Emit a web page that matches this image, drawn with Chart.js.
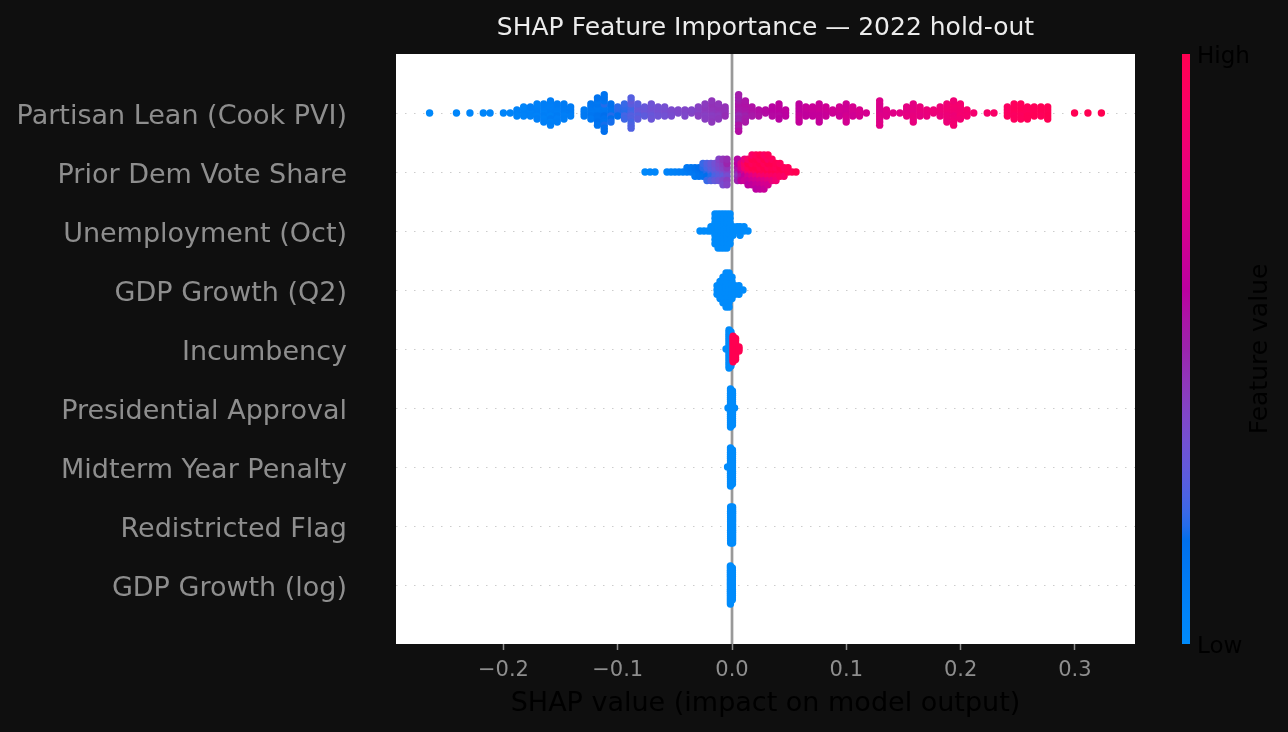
<!DOCTYPE html>
<html>
<head>
<meta charset="utf-8">
<title>SHAP Feature Importance — 2022 hold-out</title>
<script src="https://cdn.jsdelivr.net/npm/chart.js@4.4.1/dist/chart.umd.min.js"></script>
<style>
  html, body { margin: 0; padding: 0; background: #0f0f0f; }
  #wrap { width: 1288px; height: 732px; }
</style>
</head>
<body>
<div id="wrap"><canvas id="shap" width="1288" height="732"></canvas></div>
<script>
// ---------------------------------------------------------------------------
// Data: one SHAP value per district and its (scaled 0..1) feature value
// ---------------------------------------------------------------------------
const chartTitle = 'SHAP Feature Importance \u2014 2022 hold-out';
const xTitle = 'SHAP value (impact on model output)';
const colorLabel = 'Feature value';
const colorTicks = ['Low', 'High'];
const xTicks = [-0.2, -0.1, 0.0, 0.1, 0.2, 0.3];

const featureNames = [
    'Partisan Lean (Cook PVI)',
    'Prior Dem Vote Share',
    'Unemployment (Oct)',
    'GDP Growth (Q2)',
    'Incumbency',
    'Presidential Approval',
    'Midterm Year Penalty',
    'Redistricted Flag',
    'GDP Growth (log)'
];

const shapPartisan = [
    -0.2646, -0.2411, -0.2293, -0.2176, -0.2117, -0.2000, -0.1941,
    -0.1882, -0.1882, -0.1882,
    -0.1823, -0.1823, -0.1823, -0.1823,
    -0.1764, -0.1764, -0.1764, -0.1764,
    -0.1706, -0.1706, -0.1706, -0.1706, -0.1706, -0.1706,
    -0.1647, -0.1647, -0.1647, -0.1647, -0.1647, -0.1647, -0.1647,
    -0.1588, -0.1588, -0.1588, -0.1588, -0.1588, -0.1588, -0.1588, -0.1588, -0.1588,
    -0.1529, -0.1529, -0.1529, -0.1529, -0.1529, -0.1529, -0.1529,
    -0.1470, -0.1470, -0.1470, -0.1470, -0.1470, -0.1470,
    -0.1412, -0.1412, -0.1412, -0.1412,
    -0.1294, -0.1294, -0.1294,
    -0.1235, -0.1235, -0.1235, -0.1235, -0.1235, -0.1235,
    -0.1177, -0.1177, -0.1177, -0.1177, -0.1177, -0.1177, -0.1177, -0.1177, -0.1177, -0.1177,
    -0.1118, -0.1118, -0.1118, -0.1118, -0.1118, -0.1118, -0.1118, -0.1118, -0.1118, -0.1118, -0.1118, -0.1118, -0.1118,
    -0.1059, -0.1059, -0.1059, -0.1059, -0.1059, -0.1059, -0.1059,
    -0.1000, -0.1000, -0.1000, -0.1000,
    -0.0941, -0.0941, -0.0941, -0.0941, -0.0941, -0.0941,
    -0.0883, -0.0883, -0.0883, -0.0883, -0.0883, -0.0883, -0.0883, -0.0883, -0.0883, -0.0883, -0.0883,
    -0.0824, -0.0824, -0.0824, -0.0824, -0.0824, -0.0824,
    -0.0765, -0.0765, -0.0765, -0.0765,
    -0.0706, -0.0706, -0.0706, -0.0706, -0.0706, -0.0706,
    -0.0647, -0.0647, -0.0647, -0.0647,
    -0.0589, -0.0589, -0.0589, -0.0589,
    -0.0530, -0.0530, -0.0530,
    -0.0471, -0.0471,
    -0.0412, -0.0412, -0.0412,
    -0.0354, -0.0354,
    -0.0295, -0.0295, -0.0295, -0.0295,
    -0.0236, -0.0236, -0.0236, -0.0236, -0.0236, -0.0236,
    -0.0177, -0.0177, -0.0177, -0.0177, -0.0177, -0.0177, -0.0177, -0.0177,
    -0.0118, -0.0118, -0.0118, -0.0118, -0.0118, -0.0118,
    -0.0060, -0.0060, -0.0060, -0.0060,
    0.0058, 0.0058, 0.0058, 0.0058, 0.0058, 0.0058, 0.0058, 0.0058, 0.0058, 0.0058, 0.0058, 0.0058, 0.0058,
    0.0117, 0.0117, 0.0117, 0.0117, 0.0117, 0.0117, 0.0117, 0.0117,
    0.0175, 0.0175, 0.0175, 0.0175,
    0.0234, 0.0234, 0.0234,
    0.0293, 0.0293,
    0.0352, 0.0352, 0.0352, 0.0352,
    0.0411, 0.0411, 0.0411, 0.0411, 0.0411, 0.0411,
    0.0469, 0.0469, 0.0469,
    0.0587, 0.0587, 0.0587, 0.0587, 0.0587, 0.0587, 0.0587,
    0.0646, 0.0646, 0.0646, 0.0646,
    0.0705, 0.0705, 0.0705, 0.0705,
    0.0763, 0.0763, 0.0763, 0.0763, 0.0763, 0.0763, 0.0763,
    0.0822, 0.0822, 0.0822, 0.0822,
    0.0881, 0.0881,
    0.0940, 0.0940, 0.0940, 0.0940,
    0.0999, 0.0999, 0.0999, 0.0999, 0.0999, 0.0999, 0.0999,
    0.1057, 0.1057, 0.1057, 0.1057,
    0.1116, 0.1116, 0.1116,
    0.1175,
    0.1292, 0.1292, 0.1292, 0.1292, 0.1292, 0.1292, 0.1292, 0.1292, 0.1292,
    0.1351, 0.1351, 0.1351,
    0.1410, 0.1469,
    0.1528, 0.1528, 0.1528, 0.1528,
    0.1586, 0.1586, 0.1586, 0.1586, 0.1586, 0.1586, 0.1586,
    0.1645, 0.1645, 0.1645, 0.1645,
    0.1704, 0.1704, 0.1704,
    0.1763, 0.1763,
    0.1821, 0.1821, 0.1821, 0.1821,
    0.1880, 0.1880, 0.1880, 0.1880, 0.1880, 0.1880, 0.1880,
    0.1939, 0.1939, 0.1939, 0.1939, 0.1939, 0.1939, 0.1939, 0.1939, 0.1939,
    0.1998, 0.1998, 0.1998, 0.1998, 0.1998, 0.1998,
    0.2056, 0.2056, 0.2056,
    0.2115, 0.2233, 0.2292,
    0.2409, 0.2409, 0.2409, 0.2409,
    0.2468, 0.2468, 0.2468, 0.2468, 0.2468, 0.2468,
    0.2527, 0.2527, 0.2527, 0.2527, 0.2527, 0.2527,
    0.2585, 0.2585, 0.2585, 0.2585, 0.2585,
    0.2644, 0.2644, 0.2644, 0.2644,
    0.2703, 0.2703, 0.2703, 0.2703,
    0.2762, 0.2762, 0.2762, 0.2762, 0.2762,
    0.2997, 0.3114, 0.3232
];
const featPartisan = [
    0.02, 0.03, 0.03, 0.04, 0.04, 0.05, 0.05,
    0.06, 0.06, 0.05,
    0.06, 0.07, 0.06, 0.05,
    0.07, 0.06, 0.07, 0.08,
    0.07, 0.08, 0.06, 0.07, 0.08, 0.06,
    0.08, 0.07, 0.09, 0.08, 0.07, 0.09, 0.08,
    0.08, 0.09, 0.07, 0.08, 0.10, 0.08, 0.07, 0.09, 0.08,
    0.09, 0.08, 0.10, 0.09, 0.08, 0.10, 0.09,
    0.09, 0.10, 0.08, 0.10, 0.09, 0.11,
    0.10, 0.11, 0.09, 0.10,
    0.12, 0.11, 0.12,
    0.13, 0.12, 0.14, 0.13, 0.12, 0.14,
    0.14, 0.13, 0.16, 0.12, 0.15, 0.14, 0.17, 0.13, 0.15, 0.16,
    0.15, 0.14, 0.18, 0.13, 0.16, 0.20, 0.15, 0.14, 0.19, 0.16, 0.17, 0.15, 0.18,
    0.17, 0.16, 0.20, 0.15, 0.18, 0.17, 0.19,
    0.19, 0.20, 0.18, 0.21,
    0.22, 0.20, 0.24, 0.21, 0.23, 0.22,
    0.25, 0.24, 0.27, 0.23, 0.26, 0.28, 0.24, 0.30, 0.25, 0.27, 0.26,
    0.28, 0.30, 0.27, 0.31, 0.29, 0.28,
    0.30, 0.32, 0.29, 0.31,
    0.32, 0.33, 0.31, 0.34, 0.32, 0.33,
    0.34, 0.35, 0.33, 0.34,
    0.35, 0.36, 0.34, 0.35,
    0.36, 0.37, 0.36,
    0.37, 0.38,
    0.38, 0.39, 0.38,
    0.40, 0.39,
    0.41, 0.40, 0.42, 0.41,
    0.42, 0.43, 0.41, 0.44, 0.42, 0.43,
    0.43, 0.44, 0.42, 0.45, 0.43, 0.46, 0.44, 0.45,
    0.44, 0.45, 0.43, 0.46, 0.44, 0.45,
    0.45, 0.46, 0.47, 0.46,
    0.50, 0.52, 0.48, 0.54, 0.50, 0.55, 0.49, 0.53, 0.56, 0.51, 0.54, 0.52, 0.57,
    0.52, 0.54, 0.51, 0.55, 0.53, 0.56, 0.54, 0.55,
    0.55, 0.56, 0.54, 0.56,
    0.56, 0.57, 0.56,
    0.57, 0.58,
    0.58, 0.59, 0.58, 0.59,
    0.59, 0.60, 0.58, 0.60, 0.59, 0.61,
    0.60, 0.61, 0.60,
    0.62, 0.61, 0.63, 0.62, 0.64, 0.61, 0.63,
    0.62, 0.63, 0.62, 0.64,
    0.63, 0.64, 0.63, 0.65,
    0.64, 0.65, 0.63, 0.66, 0.64, 0.65, 0.63,
    0.65, 0.66, 0.65, 0.67,
    0.66, 0.67,
    0.67, 0.68, 0.66, 0.68,
    0.68, 0.67, 0.69, 0.68, 0.70, 0.67, 0.69,
    0.69, 0.70, 0.68, 0.70,
    0.70, 0.71, 0.70,
    0.70,
    0.73, 0.72, 0.74, 0.73, 0.75, 0.72, 0.74, 0.73, 0.75,
    0.74, 0.75, 0.74,
    0.75, 0.76,
    0.77, 0.76, 0.78, 0.77,
    0.78, 0.77, 0.79, 0.78, 0.80, 0.77, 0.79,
    0.79, 0.80, 0.78, 0.80,
    0.80, 0.81, 0.80,
    0.81, 0.82,
    0.82, 0.83, 0.81, 0.82,
    0.83, 0.84, 0.82, 0.85, 0.83, 0.84, 0.82,
    0.84, 0.85, 0.83, 0.86, 0.84, 0.87, 0.85, 0.84, 0.86,
    0.85, 0.86, 0.87, 0.86, 0.85, 0.87,
    0.86, 0.88, 0.87,
    0.87, 0.89, 0.90,
    0.93, 0.92, 0.94, 0.93,
    0.94, 0.95, 0.93, 0.96, 0.94, 0.95,
    0.95, 0.96, 0.94, 0.97, 0.95, 0.96,
    0.96, 0.95, 0.97, 0.96, 0.97,
    0.96, 0.97, 0.98, 0.97,
    0.97, 0.98, 0.96, 0.98,
    0.97, 0.98, 0.99, 0.98, 0.99,
    0.99, 0.99, 1.00
];

const shapPriorVote = [
    -0.0761, -0.0717, -0.0674, -0.0569, -0.0534, -0.0499, -0.0464, -0.0429,
    -0.0394, -0.0394, -0.0359, -0.0359, -0.0324, -0.0324, -0.0324, -0.0289, -0.0289, -0.0289,
    -0.0254, -0.0254, -0.0254, -0.0254, -0.0219, -0.0219, -0.0219, -0.0219, -0.0219,
    -0.0184, -0.0184, -0.0184, -0.0184, -0.0184, -0.0149, -0.0149, -0.0149, -0.0149, -0.0149,
    -0.0114, -0.0114, -0.0114, -0.0114, -0.0114, -0.0114, -0.0079, -0.0079, -0.0079, -0.0079, -0.0079, -0.0079, -0.0079,
    -0.0044, -0.0044, -0.0044, -0.0044, -0.0044, -0.0044, -0.0044,
    0.0048, 0.0048, 0.0048, 0.0048, 0.0048, 0.0048, 0.0079, 0.0079, 0.0079, 0.0079, 0.0079,
    0.0109, 0.0109, 0.0109, 0.0109, 0.0109, 0.0109, 0.0140, 0.0140, 0.0140, 0.0140, 0.0140, 0.0140, 0.0140,
    0.0175, 0.0175, 0.0175, 0.0175, 0.0175, 0.0175, 0.0175, 0.0175,
    0.0210, 0.0210, 0.0210, 0.0210, 0.0210, 0.0210, 0.0210, 0.0210, 0.0210,
    0.0245, 0.0245, 0.0245, 0.0245, 0.0245, 0.0245, 0.0245, 0.0245, 0.0245,
    0.0280, 0.0280, 0.0280, 0.0280, 0.0280, 0.0280, 0.0280, 0.0280, 0.0280,
    0.0315, 0.0315, 0.0315, 0.0315, 0.0315, 0.0315, 0.0315, 0.0315,
    0.0350, 0.0350, 0.0350, 0.0350, 0.0350, 0.0350, 0.0385, 0.0385, 0.0385, 0.0385, 0.0385,
    0.0420, 0.0420, 0.0420, 0.0420, 0.0455, 0.0455, 0.0455, 0.0490, 0.0490, 0.0525, 0.0560
];
const featPriorVote = [
    0.02, 0.03, 0.03, 0.05, 0.06, 0.07, 0.08, 0.09,
    0.10, 0.12, 0.12, 0.14, 0.14, 0.16, 0.13, 0.16, 0.18, 0.15,
    0.18, 0.20, 0.16, 0.22, 0.20, 0.24, 0.18, 0.26, 0.22,
    0.24, 0.28, 0.20, 0.30, 0.26, 0.28, 0.32, 0.25, 0.34, 0.30,
    0.30, 0.36, 0.28, 0.38, 0.33, 0.40, 0.35, 0.40, 0.30, 0.42, 0.38, 0.45, 0.36,
    0.40, 0.45, 0.36, 0.50, 0.42, 0.48, 0.40,
    0.48, 0.55, 0.45, 0.60, 0.50, 0.58, 0.60, 0.70, 0.55, 0.75, 0.62,
    0.70, 0.85, 0.62, 0.90, 0.66, 0.80, 0.85, 0.95, 0.70, 1.00, 0.65, 0.90, 0.60,
    0.90, 1.00, 0.75, 0.95, 0.68, 1.00, 0.62, 0.90,
    0.95, 1.00, 0.80, 0.98, 0.70, 1.00, 0.65, 0.95, 0.60,
    1.00, 0.97, 0.85, 1.00, 0.72, 0.95, 0.66, 1.00, 0.62,
    0.98, 1.00, 0.88, 0.96, 0.75, 1.00, 0.70, 0.92, 0.65,
    1.00, 0.95, 0.90, 1.00, 0.78, 0.92, 0.70, 0.97,
    1.00, 0.98, 0.92, 1.00, 0.80, 0.95, 1.00, 0.96, 0.90, 0.98, 0.85,
    0.98, 1.00, 0.92, 0.95, 1.00, 0.95, 0.90, 0.98, 0.96, 0.97, 1.00
];

const shapUnemployment = [
    -0.0280, -0.0245, -0.0210, -0.0184, -0.0184,
    -0.0149, -0.0149, -0.0149, -0.0149, -0.0149, -0.0149, -0.0149, -0.0149,
    -0.0122, -0.0122, -0.0122, -0.0122, -0.0122, -0.0122, -0.0122, -0.0122, -0.0122,
    -0.0096, -0.0096, -0.0096, -0.0096, -0.0096, -0.0096, -0.0096, -0.0096, -0.0096,
    -0.0070, -0.0070, -0.0070, -0.0070, -0.0070, -0.0070, -0.0070, -0.0070, -0.0070,
    -0.0044, -0.0044, -0.0044, -0.0044, -0.0044, -0.0044, -0.0044, -0.0044, -0.0044,
    -0.0017, -0.0017, -0.0017, -0.0017, -0.0017, -0.0017, -0.0017, -0.0017,
    0.0009, 0.0009, 0.0009, 0.0044, 0.0044, 0.0070, 0.0070, 0.0070, 0.0105, 0.0105, 0.0140
];
const featUnemployment = [
    0, 0, 0, 0, 0,
    0, 0, 0, 0, 0, 0, 0, 0,
    0, 0, 0, 0, 0, 0, 0, 0, 0,
    0, 0, 0, 0, 0, 0, 0, 0, 0,
    0, 0, 0, 0, 0, 0, 0, 0, 0,
    0, 0, 0, 0, 0, 0, 0, 0, 0,
    0, 0, 0, 0, 0, 0, 0, 0,
    0, 0, 0, 0, 0, 0, 0, 0, 0, 0, 0
];

const shapGdpQ2 = [
    -0.0131, -0.0131, -0.0131, -0.0105, -0.0105, -0.0105, -0.0105, -0.0105,
    -0.0079, -0.0079, -0.0079, -0.0079, -0.0079, -0.0079, -0.0079,
    -0.0052, -0.0052, -0.0052, -0.0052, -0.0052, -0.0052, -0.0052, -0.0052, -0.0052,
    -0.0026, -0.0026, -0.0026, -0.0026, -0.0026, -0.0026, -0.0026, -0.0026, -0.0026,
    0.0000, 0.0000, 0.0000, 0.0000, 0.0000, 0.0000, 0.0026, 0.0026, 0.0026,
    0.0061, 0.0061, 0.0061, 0.0096
];
const featGdpQ2 = [
    0, 0, 0, 0, 0, 0, 0, 0,
    0, 0, 0, 0, 0, 0, 0,
    0, 0, 0, 0, 0, 0, 0, 0, 0,
    0, 0, 0, 0, 0, 0, 0, 0, 0,
    0, 0, 0, 0, 0, 0, 0, 0, 0,
    0, 0, 0, 0
];

const shapIncumbency = [
    -0.0052, -0.0026, -0.0026, -0.0026, -0.0026, -0.0026, -0.0026, -0.0026, -0.0026, -0.0026, -0.0026,
    -0.0026, -0.0026, -0.0026, -0.0026, -0.0026, -0.0026, -0.0026, -0.0026, -0.0026,
    -0.0009, -0.0009, -0.0009, -0.0009, -0.0009, -0.0009, -0.0009, -0.0009, -0.0009,
    -0.0009, -0.0009, -0.0009, -0.0009, -0.0009, -0.0009, -0.0009, -0.0009,
    0.0009, 0.0009, 0.0009, 0.0009, 0.0009, 0.0009, 0.0009, 0.0009, 0.0009, 0.0009, 0.0009, 0.0009, 0.0009,
    0.0031, 0.0031, 0.0031, 0.0031, 0.0031, 0.0031, 0.0031, 0.0031, 0.0031, 0.0031, 0.0031,
    0.0061, 0.0061, 0.0061
];
const featIncumbency = [
    0, 0, 0, 0, 0, 0, 0, 0, 0, 0, 0,
    0, 0, 0, 0, 0, 0, 0, 0, 0,
    0, 0, 0, 0, 0, 0, 0, 0, 0,
    0, 0, 0, 0, 0, 0, 0, 0,
    1, 1, 1, 1, 1, 1, 1, 1, 1, 1, 1, 1, 1,
    1, 1, 1, 1, 1, 1, 1, 1, 1, 1, 1,
    1, 1, 1
];

const shapApproval = [
    -0.0035, -0.0013, -0.0013, -0.0013, -0.0013, -0.0013, -0.0013, -0.0013, -0.0013, -0.0013, -0.0013,
    -0.0013, -0.0013, -0.0013, -0.0013, -0.0013, -0.0013, -0.0013, -0.0013, -0.0013,
    0.0004, 0.0004, 0.0004, 0.0004, 0.0004, 0.0004, 0.0004, 0.0004, 0.0004,
    0.0004, 0.0004, 0.0004, 0.0004, 0.0004, 0.0004, 0.0004, 0.0004, 0.0022
];
const featApproval = [
    0, 0, 0, 0, 0, 0, 0, 0, 0, 0, 0,
    0, 0, 0, 0, 0, 0, 0, 0, 0,
    0, 0, 0, 0, 0, 0, 0, 0, 0,
    0, 0, 0, 0, 0, 0, 0, 0, 0
];

const shapMidterm = [
    -0.0039, -0.0013, -0.0013, -0.0013, -0.0013, -0.0013, -0.0013, -0.0013, -0.0013, -0.0013, -0.0013,
    -0.0013, -0.0013, -0.0013, -0.0013, -0.0013, -0.0013, -0.0013, -0.0013, -0.0013,
    0.0004, 0.0004, 0.0004, 0.0004, 0.0004, 0.0004, 0.0004, 0.0004, 0.0004,
    0.0004, 0.0004, 0.0004, 0.0004, 0.0004, 0.0004, 0.0004, 0.0004
];
const featMidterm = [
    0, 0, 0, 0, 0, 0, 0, 0, 0, 0, 0,
    0, 0, 0, 0, 0, 0, 0, 0, 0,
    0, 0, 0, 0, 0, 0, 0, 0, 0,
    0, 0, 0, 0, 0, 0, 0, 0
];

const shapRedistricted = [
    -0.0012, -0.0012, -0.0012, -0.0012, -0.0012, -0.0012, -0.0012, -0.0012, -0.0012,
    -0.0012, -0.0012, -0.0012, -0.0012, -0.0012, -0.0012, -0.0012, -0.0012, -0.0012,
    0.0005, 0.0005, 0.0005, 0.0005, 0.0005, 0.0005, 0.0005, 0.0005, 0.0005,
    0.0005, 0.0005, 0.0005, 0.0005, 0.0005, 0.0005, 0.0005, 0.0005, 0.0005
];
const featRedistricted = [
    0, 0, 0, 0, 0, 0, 0, 0, 0,
    0, 0, 0, 0, 0, 0, 0, 0, 0,
    0, 0, 0, 0, 0, 0, 0, 0, 0,
    0, 0, 0, 0, 0, 0, 0, 0, 0
];

const shapGdpLog = [
    -0.0014, -0.0014, -0.0014, -0.0014, -0.0014, -0.0014, -0.0014, -0.0014, -0.0014, -0.0014,
    -0.0014, -0.0014, -0.0014, -0.0014, -0.0014, -0.0014, -0.0014, -0.0014, -0.0014,
    0.0003, 0.0003, 0.0003, 0.0003, 0.0003, 0.0003, 0.0003, 0.0003,
    0.0003, 0.0003, 0.0003, 0.0003, 0.0003, 0.0003, 0.0003, 0.0003
];
const featGdpLog = [
    0, 0, 0, 0, 0, 0, 0, 0, 0, 0,
    0, 0, 0, 0, 0, 0, 0, 0, 0,
    0, 0, 0, 0, 0, 0, 0, 0,
    0, 0, 0, 0, 0, 0, 0, 0
];

const rows = [
    [shapPartisan, featPartisan],
    [shapPriorVote, featPriorVote],
    [shapUnemployment, featUnemployment],
    [shapGdpQ2, featGdpQ2],
    [shapIncumbency, featIncumbency],
    [shapApproval, featApproval],
    [shapMidterm, featMidterm],
    [shapRedistricted, featRedistricted],
    [shapGdpLog, featGdpLog]
];

// ---------------------------------------------------------------------------
// shap's red_blue colormap (LCH blend, lightness dips to 40 in the middle)
// ---------------------------------------------------------------------------
function redBlue(t) {
    t = Math.min(1, Math.max(0, t));
    const s = t * 99;
    const L = s <= 49 ? 54 - 14 * s / 49 : (s >= 50 ? 40 + 14 * (s - 50) / 49 : 40);
    const C = 70 + 20 * t;
    const h = 4.6588 + (0.35470565 + 2 * Math.PI - 4.6588) * t;
    const a = C * Math.cos(h), b = C * Math.sin(h);
    const fy = (L + 16) / 116, fx = fy + a / 500, fz = fy - b / 200;
    const finv = v => v > 6 / 29 ? v * v * v : 3 * (6 / 29) * (6 / 29) * (v - 4 / 29);
    const X = 0.95047 * finv(fx), Y = finv(fy), Z = 1.08883 * finv(fz);
    const lin = [
        3.2406 * X - 1.5372 * Y - 0.4986 * Z,
        -0.9689 * X + 1.8758 * Y + 0.0415 * Z,
        0.0557 * X - 0.2040 * Y + 1.0570 * Z
    ];
    const rgb = lin.map(v => {
        const c = v <= 0.0031308 ? 12.92 * v : 1.055 * Math.pow(v, 1 / 2.4) - 0.055;
        return Math.round(255 * Math.min(1, Math.max(0, c)));
    });
    return `rgb(${rgb[0]},${rgb[1]},${rgb[2]})`;
}

// ---------------------------------------------------------------------------
// Beeswarm offsets, same binning as shap.summary_plot (100 bins, row height 0.4)
// ---------------------------------------------------------------------------
function swarmOffsets(vals) {
    const lo = Math.min(...vals), hi = Math.max(...vals);
    const quant = vals.map(v => Math.round(100 * (v - lo) / (hi - lo + 1e-8)));
    const order = vals.map((_, i) => i).sort((a, b) => quant[a] - quant[b] || a - b);
    const ys = new Array(vals.length).fill(0);
    let layer = 0, last = -1;
    for (const i of order) {
        if (quant[i] !== last) layer = 0;
        ys[i] = Math.ceil(layer / 2) * ((layer % 2) * 2 - 1);
        layer += 1;
        last = quant[i];
    }
    const top = Math.max(...ys.map(y => y + 1));
    return ys.map(y => y * 0.9 * 0.4 / top);
}

const allShap = rows.flatMap(r => r[0]);
const dataMin = Math.min(...allShap), dataMax = Math.max(...allShap);
const xPad = 0.05 * (dataMax - dataMin);

const datasets = rows.map(([shap, feat], i) => {
    const ys = swarmOffsets(shap);
    return {
        label: featureNames[i],
        data: shap.map((v, j) => ({ x: v, y: i - ys[j] })),
        pointBackgroundColor: feat.map(f => redBlue(f ?? 0)),
        pointBorderWidth: 0,
        pointRadius: 3.7,
        pointHoverRadius: 3.7
    };
});

const fmtTick = v => (v < -1e-9 ? '\u2212' : '') + Math.abs(v).toFixed(1);

const shapDecor = {
    id: 'shapDecor',
    beforeDraw(chart) {
        const { ctx, chartArea: a } = chart;
        ctx.save();
        ctx.fillStyle = '#0f0f0f';
        ctx.fillRect(0, 0, chart.width, chart.height);
        ctx.fillStyle = '#ffffff';
        ctx.fillRect(a.left, a.top, a.right - a.left, a.bottom - a.top);
        ctx.restore();
    },
    beforeDatasetsDraw(chart) {
        // zero line sits behind the dots
        const { ctx, chartArea: a } = chart;
        const px = chart.scales.x.getPixelForValue(0);
        ctx.save();
        ctx.strokeStyle = '#999999';
        ctx.lineWidth = 2.7;
        ctx.beginPath();
        ctx.moveTo(px, a.top);
        ctx.lineTo(px, a.bottom);
        ctx.stroke();
        ctx.restore();
    },
    afterDraw(chart) {
        const { ctx, chartArea: a } = chart;
        const cx = (a.left + a.right) / 2;
        ctx.save();
        ctx.textAlign = 'center';
        ctx.textBaseline = 'middle';

        ctx.fillStyle = '#ececec';
        ctx.font = '25px "DejaVu Sans"';
        ctx.fillText(chartTitle, cx, a.top - 26);

        ctx.fillStyle = '#000000';
        ctx.font = '27px "DejaVu Sans"';
        ctx.fillText(xTitle, cx, a.bottom + 60);

        // colour bar
        const barX = a.right + 47, barW = 8;
        const grad = ctx.createLinearGradient(0, a.bottom, 0, a.top);
        for (let k = 0; k <= 40; k++) grad.addColorStop(k / 40, redBlue(k / 40));
        ctx.fillStyle = grad;
        ctx.fillRect(barX, a.top, barW, a.bottom - a.top);

        ctx.fillStyle = '#000000';
        ctx.font = '23px "DejaVu Sans"';
        ctx.textAlign = 'left';
        ctx.fillText(colorTicks[1], barX + barW + 7, a.top + 3);
        ctx.fillText(colorTicks[0], barX + barW + 7, a.bottom + 3);

        ctx.font = '25px "DejaVu Sans"';
        ctx.textAlign = 'center';
        ctx.translate(barX + 78, (a.top + a.bottom) / 2);
        ctx.rotate(-Math.PI / 2);
        ctx.fillText(colorLabel, 0, 0);
        ctx.restore();
    }
};

Chart.defaults.font.family = '"DejaVu Sans", sans-serif';

new Chart(document.getElementById('shap'), {
    type: 'scatter',
    data: { datasets: datasets },
    options: {
        responsive: false,
        devicePixelRatio: 1,
        animation: false,
        events: [],
        layout: { padding: { left: 0, right: 153, top: 54, bottom: 0 } },
        plugins: {
            legend: { display: false },
            tooltip: { enabled: false },
            title: { display: false }
        },
        scales: {
            x: {
                type: 'linear',
                min: dataMin - xPad,
                max: dataMax + xPad,
                afterBuildTicks(scale) { scale.ticks = xTicks.map(v => ({ value: v })); },
                afterFit(scale) {
                    scale.height = 88;
                    scale.paddingLeft = 0;
                    scale.paddingRight = 0;
                },
                ticks: {
                    color: '#8e8e8e',
                    font: { size: 21 },
                    padding: 8,
                    maxRotation: 0,
                    callback: v => fmtTick(v)
                },
                grid: {
                    display: true,
                    drawOnChartArea: false,
                    drawTicks: true,
                    tickLength: 6,
                    tickColor: '#8e8e8e',
                    tickWidth: 1.5
                },
                border: { display: false }
            },
            y: {
                type: 'linear',
                min: -1,
                max: 9,
                reverse: true,
                afterBuildTicks(scale) { scale.ticks = featureNames.map((_, i) => ({ value: i })); },
                afterFit(scale) {
                    scale.width = 396;
                    scale.paddingTop = 0;
                    scale.paddingBottom = 0;
                },
                ticks: {
                    color: '#8e8e8e',
                    font: { size: 27 },
                    padding: 49,
                    labelOffset: 4,
                    callback: v => featureNames[v]
                },
                grid: {
                    color: '#cccccc',
                    lineWidth: 1,
                    drawTicks: false
                },
                border: { display: false, dash: [1.5, 7.5] }
            }
        }
    },
    plugins: [shapDecor]
});
</script>
</body>
</html>
